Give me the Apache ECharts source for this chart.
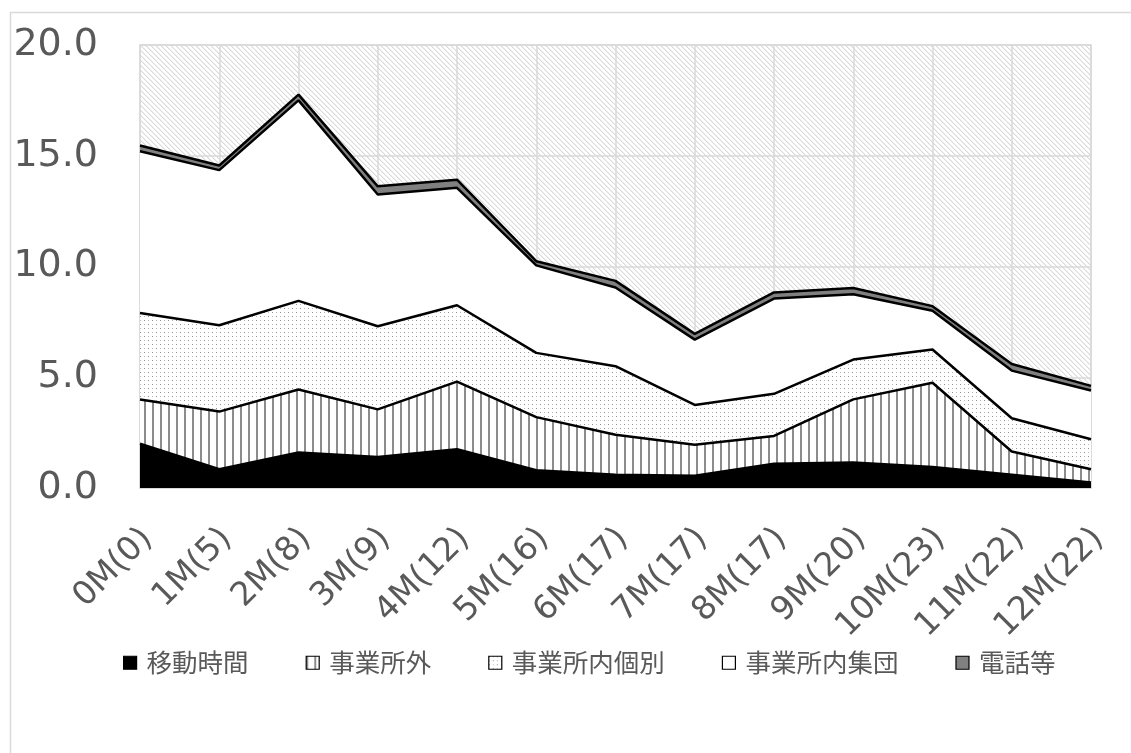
<!DOCTYPE html>
<html>
<head>
<meta charset="utf-8">
<script src="https://cdn.jsdelivr.net/npm/echarts@6/dist/echarts.min.js"></script>
<style>
html,body{margin:0;padding:0;background:#fff;}
#main{width:1131px;height:753px;}
</style>
</head>
<body>
<div id="main"></div>
<script>
const categories = ['0M(0)','1M(5)','2M(8)','3M(9)','4M(12)','5M(16)','6M(17)','7M(17)','8M(17)','9M(20)','10M(23)','11M(22)','12M(22)'];
const seriesNames = ['移動時間','事業所外','事業所内個別','事業所内集団','電話等'];
const idouJikan      = [2.0, 0.85, 1.6, 1.4, 1.75, 0.8, 0.6, 0.55, 1.1, 1.15, 0.95, 0.6, 0.25];
const jigyoshoGai    = [2.0, 2.6, 2.85, 2.15, 3.05, 2.4, 1.8, 1.4, 1.25, 2.85, 3.8, 1.05, 0.6];
const naiKobetsu     = [3.9, 3.9, 4.0, 3.75, 3.45, 2.9, 3.1, 1.8, 1.9, 1.8, 1.5, 1.5, 1.35];
const naiShudan      = [7.3, 7.0, 9.05, 5.95, 5.3, 3.95, 3.55, 2.95, 4.3, 2.95, 1.75, 2.15, 2.2];
const denwaTo        = [0.26, 0.21, 0.26, 0.37, 0.37, 0.19, 0.3, 0.26, 0.28, 0.28, 0.21, 0.3, 0.21];
const yTicks = [0, 5, 10, 15, 20];

function makeCanvas(w, h, draw) {
  const c = document.createElement('canvas');
  c.width = w; c.height = h;
  const ctx = c.getContext('2d');
  ctx.fillStyle = '#ffffff';
  ctx.fillRect(0, 0, w, h);
  draw(ctx);
  return { image: c, repeat: 'repeat' };
}
const hatchPattern = makeCanvas(5, 5, ctx => {
  ctx.fillStyle = '#d9d9d9';
  for (let i = 0; i < 5; i++) ctx.fillRect(i, i, 1, 1);
  ctx.fillStyle = '#efefef';
  for (let i = 0; i < 5; i++) ctx.fillRect((i + 1) % 5, i, 1, 1);
});
const stripePattern = makeCanvas(8, 4, ctx => {
  ctx.fillStyle = '#8c8c8c';
  ctx.fillRect(0, 0, 2, 4);
});
const dotPattern = makeCanvas(8, 8, ctx => {
  ctx.fillStyle = '#8c8c8c';
  ctx.fillRect(0, 0, 1, 1);
  ctx.fillRect(4, 4, 1, 1);
  ctx.fillStyle = '#bdbdbd';
  ctx.fillRect(4, 0, 1, 1);
  ctx.fillRect(0, 4, 1, 1);
});

const fills = ['#000000', stripePattern, dotPattern, '#ffffff', '#808080'];
const dataSets = [idouJikan, jigyoshoGai, naiKobetsu, naiShudan, denwaTo];
const FONT = "'DejaVu Sans', 'Noto Sans CJK JP', sans-serif";
const CJK = "'Noto Sans CJK JP', sans-serif";

const chart = echarts.init(document.getElementById('main'));
chart.setOption({
  backgroundColor: '#ffffff',
  animation: false,
  graphic: [{
    type: 'rect', left: 8, top: 10, z: -10,
    shape: { width: 1300, height: 900 },
    style: { fill: 'none', stroke: '#d9d9d9', lineWidth: 1.5 }
  }],
  grid: {
    left: 140, right: 40, top: 45, bottom: 265,
    show: true, backgroundColor: hatchPattern,
    borderColor: '#d9d9d9', borderWidth: 1.5
  },
  legend: {
    top: 645, left: 118,
    icon: 'rect', itemWidth: 13, itemHeight: 13, itemGap: 57,
    textStyle: { fontSize: 25.5, color: '#595959', fontFamily: CJK, padding: [0, 0, 0, 5] },
    data: seriesNames.map((n, i) => ({
      name: n,
      itemStyle: { color: fills[i], borderColor: '#000', borderWidth: 1.2 }
    }))
  },
  xAxis: {
    type: 'category', data: categories, boundaryGap: false,
    axisLine: { show: true, lineStyle: { color: '#d9d9d9', width: 1.5 } },
    axisTick: { show: false },
    splitLine: { show: true, lineStyle: { color: '#d9d9d9', width: 1.5 } },
    axisLabel: { rotate: 45, margin: 30, fontSize: 33, color: '#595959', fontFamily: FONT, interval: 0,
      align: 'right', verticalAlign: 'top', padding: [0, 6, 0, 0] }
  },
  yAxis: {
    type: 'value', min: yTicks[0], max: yTicks[yTicks.length - 1], interval: yTicks[1] - yTicks[0],
    axisLine: { show: false }, axisTick: { show: false },
    splitLine: { show: true, lineStyle: { color: '#d9d9d9', width: 1.5 } },
    axisLabel: { fontSize: 38, color: '#595959', fontFamily: FONT, margin: 42,
      formatter: v => v.toFixed(1) }
  },
  series: seriesNames.map((n, i) => ({
    name: n, type: 'line', stack: 'total', data: dataSets[i],
    symbol: 'none', smooth: false,
    lineStyle: { color: '#000', width: 2.5 },
    itemStyle: { color: fills[i] },
    areaStyle: { color: fills[i], opacity: 1 },
    emphasis: { disabled: true },
    z: 10 - i
  }))
});
</script>
</body>
</html>
